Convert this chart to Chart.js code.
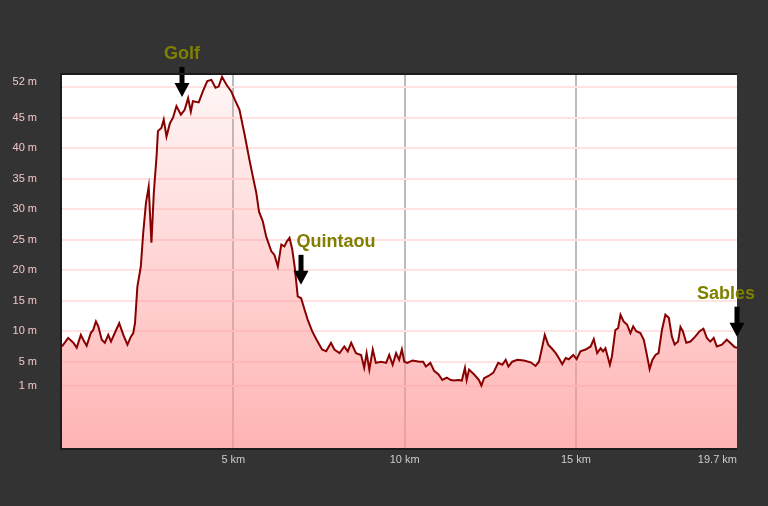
<!DOCTYPE html>
<html>
<head>
<meta charset="utf-8">
<title>Profil altimétrique</title>
<script src="https://cdn.jsdelivr.net/npm/chart.js@4/dist/chart.umd.min.js"></script>
<style>
    body { margin: 0; background: #333333; }
    #wrap { width: 768px; height: 506px; }
</style>
</head>
<body>
<div id="wrap"><canvas id="myChart" width="768" height="506"></canvas></div>
<script>
'use strict'

// distance along the route (km) and elevation (m)
let distKm = [0.00, 0.18, 0.33, 0.43, 0.55, 0.62, 0.72, 0.84, 0.91, 0.99, 1.06, 1.16, 1.25, 1.35, 1.43, 1.54, 1.67, 1.79, 1.91, 2.01,
    2.08, 2.13, 2.20, 2.30, 2.37, 2.45, 2.53, 2.61, 2.68, 2.76, 2.80, 2.90, 2.97, 3.05, 3.15, 3.24, 3.34, 3.47, 3.58, 3.68,
    3.76, 3.82, 3.99, 4.11, 4.24, 4.36, 4.48, 4.57, 4.67, 4.80, 4.94, 5.04, 5.18, 5.33, 5.47, 5.59, 5.67, 5.75, 5.86, 5.96,
    6.11, 6.20, 6.30, 6.40, 6.49, 6.56, 6.64, 6.72, 6.79, 6.88, 6.98, 7.08, 7.17, 7.30, 7.43, 7.59, 7.71, 7.85, 7.95, 8.10,
    8.24, 8.34, 8.44, 8.58, 8.73, 8.82, 8.89, 8.97, 9.07, 9.16, 9.31, 9.46, 9.55, 9.65, 9.75, 9.84, 9.92, 9.99, 10.08, 10.23,
    10.43, 10.54, 10.62, 10.75, 10.86, 10.99, 11.10, 11.23, 11.35, 11.44, 11.57, 11.67, 11.76, 11.81, 11.88, 12.03, 12.17, 12.24, 12.32, 12.46,
    12.59, 12.73, 12.85, 12.95, 13.03, 13.14, 13.29, 13.48, 13.68, 13.82, 13.92, 14.00, 14.09, 14.19, 14.29, 14.41, 14.50, 14.60, 14.70, 14.79,
    14.92, 15.02, 15.13, 15.28, 15.43, 15.52, 15.62, 15.72, 15.79, 15.86, 15.99, 16.05, 16.15, 16.23, 16.30, 16.39, 16.49, 16.59, 16.67, 16.76,
    16.88, 16.98, 17.06, 17.15, 17.23, 17.32, 17.41, 17.51, 17.61, 17.71, 17.80, 17.88, 17.98, 18.05, 18.12, 18.22, 18.34, 18.48, 18.61, 18.72,
    18.82, 18.92, 19.02, 19.11, 19.26, 19.40, 19.50, 19.63, 19.70];
let elevM = [7.5, 8.9, 8.1, 7.3, 9.4, 8.6, 7.6, 9.7, 10.2, 11.6, 10.8, 8.6, 8.1, 9.4, 8.3, 9.7, 11.3, 9.4, 7.8, 9.1,
    9.7, 11.3, 17.3, 20.6, 26.1, 31.0, 33.7, 24.5, 32.7, 38.7, 42.8, 43.3, 44.7, 41.9, 44.1, 45.0, 46.9, 45.5, 46.3, 48.2,
    46.0, 47.7, 47.5, 49.3, 51.0, 51.2, 49.9, 50.1, 51.7, 50.4, 49.3, 48.0, 46.3, 42.2, 38.1, 34.8, 32.7, 29.6, 28.0, 25.5,
    23.1, 22.5, 20.6, 24.2, 23.9, 24.7, 25.3, 23.4, 20.6, 15.7, 15.4, 13.5, 11.9, 10.0, 8.6, 7.0, 6.7, 8.1, 7.0, 6.4,
    7.5, 6.7, 8.1, 6.4, 6.1, 4.0, 6.4, 3.7, 7.0, 4.8, 5.0, 4.8, 6.1, 4.5, 6.4, 5.3, 7.0, 5.0, 4.8, 5.2,
    5.0, 5.0, 4.2, 4.8, 3.5, 2.9, 2.0, 2.4, 2.0, 1.9, 2.0, 1.9, 4.0, 2.0, 3.7, 2.9, 2.0, 1.1, 2.3, 2.7,
    3.2, 4.8, 4.5, 5.3, 4.2, 5.0, 5.3, 5.2, 4.9, 4.3, 5.0, 7.0, 9.4, 7.8, 7.2, 6.4, 5.6, 4.6, 5.6, 5.4,
    6.1, 5.4, 6.7, 7.0, 7.5, 8.7, 6.4, 7.2, 6.7, 7.2, 4.5, 5.9, 10.2, 10.5, 12.7, 11.6, 11.1, 9.7, 10.8, 10.0,
    9.7, 8.6, 6.4, 3.8, 5.3, 6.1, 6.4, 10.2, 12.7, 12.2, 9.1, 7.8, 8.3, 10.7, 10.0, 8.1, 8.3, 9.1, 10.0, 10.4,
    8.9, 8.3, 8.9, 7.5, 7.8, 8.6, 8.1, 7.4, 7.3];

// y axis ticks (the top label sits a little above its gridline)
let yTickValues = [50.8, 50, 45, 40, 35, 30, 25, 20, 15, 10, 5, 1];
let yTickLabels = ['52 m', '', '45 m', '40 m', '35 m', '30 m', '25 m', '20 m', '15 m', '10 m', '5 m', '1 m'];
let xTickValues = [0, 5, 10, 15, 19.7];
let xTickLabels = ['', '5 km', '10 km', '15 km', '19.7 km'];

// places marked on the profile
let markerNames = ['Golf', 'Quintaou', 'Sables'];
let markerKm = [3.5, 6.98, 19.7];
let markerElev = [48.4, 17.6, 9.1];
let markerTextShift = [0, 35, -11];

let points = [];
for (let i = 0; i < distKm.length; i++) {
    points.push({ x: distKm[i], y: elevM[i] });
}

let backgroundPlugin = {
    id: 'bg',
    beforeDraw(chart) {
        let ctx = chart.ctx;
        let a = chart.chartArea;
        ctx.save();
        ctx.fillStyle = '#333333';
        ctx.fillRect(0, 0, chart.width, chart.height);
        ctx.fillStyle = '#ffffff';
        ctx.fillRect(a.left, a.top, a.right - a.left, a.bottom - a.top);
        ctx.restore();
    },
    afterDraw(chart) {
        let ctx = chart.ctx;
        let a = chart.chartArea;
        ctx.save();
        ctx.strokeStyle = '#1c1c1c';
        ctx.lineWidth = 2;
        ctx.beginPath();
        ctx.moveTo(a.right, a.top - 1);
        ctx.lineTo(a.left - 1, a.top - 1);
        ctx.lineTo(a.left - 1, a.bottom + 1);
        ctx.lineTo(a.right, a.bottom + 1);
        ctx.stroke();
        ctx.restore();
    }
};

let markerPlugin = {
    id: 'markers',
    afterDatasetsDraw(chart) {
        let ctx = chart.ctx;
        let xs = chart.scales.x;
        let ys = chart.scales.y;
        ctx.save();
        for (let i = 0; i < markerNames.length; i++) {
            let px = Math.round(xs.getPixelForValue(markerKm[i]));
            let py = ys.getPixelForValue(markerElev[i]);
            ctx.fillStyle = '#000000';
            ctx.fillRect(px - 2.5, py - 30, 5, 17);
            ctx.beginPath();
            ctx.moveTo(px - 7.5, py - 14);
            ctx.lineTo(px + 7.5, py - 14);
            ctx.lineTo(px, py);
            ctx.closePath();
            ctx.fill();
            ctx.fillStyle = '#808000';
            ctx.font = 'bold 18px "Liberation Sans", Arial, sans-serif';
            ctx.textAlign = 'center';
            ctx.textBaseline = 'middle';
            ctx.fillText(markerNames[i], px + markerTextShift[i], py - 43);
        }
        ctx.restore();
    }
};

let ctx = document.getElementById('myChart').getContext('2d');
let myChart = new Chart(ctx, {
    type: 'line',
    data: {
        datasets: [{
            data: points,
            borderColor: '#880000',
            borderWidth: 2,
            pointRadius: 0,
            tension: 0,
            fill: 'start',
            backgroundColor: function (context) {
                let area = context.chart.chartArea;
                if (!area) {
                    return 'rgba(255, 150, 150, 0.5)';
                }
                let g = context.chart.ctx.createLinearGradient(0, area.top, 0, area.bottom);
                g.addColorStop(0, 'rgba(255, 150, 150, 0.08)');
                g.addColorStop(1, 'rgba(255, 150, 150, 0.72)');
                return g;
            }
        }]
    },
    options: {
        responsive: false,
        animation: false,
        layout: { padding: { top: 75, right: 31, left: 0, bottom: 0 } },
        plugins: {
            legend: { display: false },
            tooltip: { enabled: false }
        },
        scales: {
            x: {
                type: 'linear',
                min: 0,
                max: 19.7,
                afterBuildTicks: function (scale) {
                    scale.ticks = xTickValues.map(v => ({ value: v }));
                },
                afterFit: function (scale) {
                    scale.height = 58;
                },
                border: { display: false },
                grid: {
                    drawTicks: false,
                    lineWidth: 2,
                    color: c => (c.tick && c.tick.value > 0 && c.tick.value < 19.7) ? 'rgba(170, 170, 170, 0.8)' : 'rgba(0,0,0,0)'
                },
                ticks: {
                    align: 'inner',
                    padding: 5,
                    color: '#cccccc',
                    font: { family: '"Liberation Sans", Arial, sans-serif', size: 11 },
                    callback: function (value, index) {
                        return xTickLabels[index];
                    }
                }
            },
            y: {
                min: -9.15,
                max: 52,
                afterBuildTicks: function (scale) {
                    scale.ticks = yTickValues.map(v => ({ value: v }));
                },
                afterFit: function (scale) {
                    scale.width = 62;
                },
                border: { display: false },
                grid: {
                    drawTicks: false,
                    lineWidth: 2,
                    color: c => (c.tick && Number.isInteger(c.tick.value)) ? '#ffe2e2' : 'rgba(0,0,0,0)'
                },
                ticks: {
                    padding: 25,
                    color: '#f2c6c6',
                    font: { family: '"Liberation Sans", Arial, sans-serif', size: 11 },
                    callback: function (value, index) {
                        return yTickLabels[index];
                    }
                }
            }
        }
    },
    plugins: [backgroundPlugin, markerPlugin]
});
</script>
</body>
</html>
